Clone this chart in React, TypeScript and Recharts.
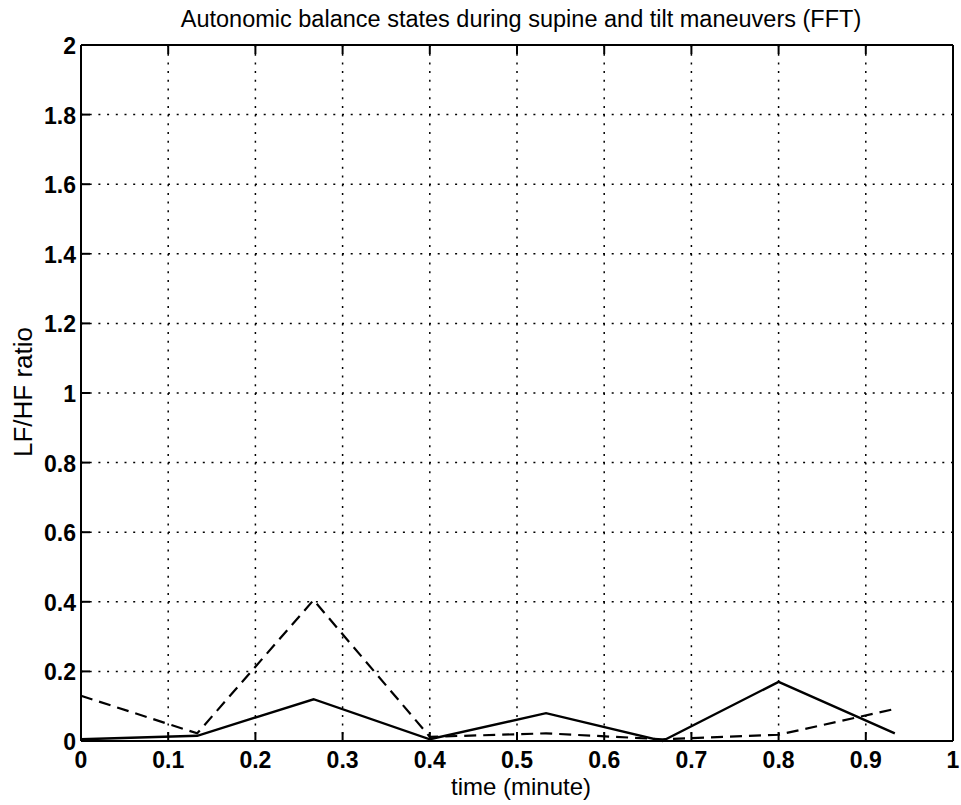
import { LineChart, Line, XAxis, YAxis, CartesianGrid } from 'recharts'

// sample times (minutes) and LF/HF ratio for the two runs
const times = [0, 0.1333, 0.2667, 0.4, 0.5333, 0.6667, 0.8, 0.9333]
const solidRatio = [0.005, 0.015, 0.12, 0.005, 0.08, 0.0, 0.17, 0.022]
const dashedRatio = [0.13, 0.022, 0.405, 0.012, 0.022, 0.005, 0.018, 0.092]

const xTicks = [0, 0.1, 0.2, 0.3, 0.4, 0.5, 0.6, 0.7, 0.8, 0.9, 1]
const yTicks = [0, 0.2, 0.4, 0.6, 0.8, 1, 1.2, 1.4, 1.6, 1.8, 2]

const data = times.map((t, i) => ({ t, solid: solidRatio[i], dashed: dashedRatio[i] }))

const FONT = '"Liberation Sans", Arial, Helvetica, sans-serif'
const TICK_LEN = 9

const fmt = (v: number) => (Number.isInteger(v) ? String(v) : v.toFixed(1))

const BottomTick = ({ x, y, payload }: any) => (
  <g>
    <line x1={x} y1={y} x2={x} y2={y - TICK_LEN} stroke="#000" strokeWidth={2} />
    <text x={x} y={y + 27} textAnchor="middle" fontFamily={FONT} fontSize={23} fontWeight="bold" fill="#000">
      {fmt(payload.value)}
    </text>
  </g>
)

const TopTick = ({ x, y }: any) => (
  <line x1={x} y1={y} x2={x} y2={y + TICK_LEN} stroke="#000" strokeWidth={2} />
)

const LeftTick = ({ x, y, payload }: any) => (
  <g>
    <line x1={x} y1={y} x2={x + TICK_LEN} y2={y} stroke="#000" strokeWidth={2} />
    <text x={x - 5} y={y + 9} textAnchor="end" fontFamily={FONT} fontSize={23} fontWeight="bold" fill="#000">
      {fmt(payload.value)}
    </text>
  </g>
)

const RightTick = ({ x, y }: any) => (
  <line x1={x} y1={y} x2={x - TICK_LEN} y2={y} stroke="#000" strokeWidth={2} />
)

export default function App() {
  const axisLine = { stroke: '#000', strokeWidth: 2 }
  return (
    <div style={{ position: 'absolute', left: 0, top: 0, width: 961, height: 805, background: '#fff' }}>
      <LineChart width={961} height={805} data={data} margin={{ top: 44, right: 7, bottom: 24, left: 21 }}>
        <CartesianGrid stroke="#000" strokeWidth={1.5} strokeDasharray="2 6.7" />
        <XAxis
          dataKey="t"
          type="number"
          domain={[0, 1]}
          ticks={xTicks}
          height={40}
          tickSize={0}
          tickMargin={0}
          tickLine={false}
          axisLine={axisLine}
          tick={<BottomTick />}
          interval={0}
        />
        <XAxis
          xAxisId="top"
          orientation="top"
          dataKey="t"
          type="number"
          domain={[0, 1]}
          ticks={xTicks}
          height={1}
          tickSize={0}
          tickMargin={0}
          tickLine={false}
          axisLine={axisLine}
          tick={<TopTick />}
          interval={0}
        />
        <YAxis
          type="number"
          domain={[0, 2]}
          ticks={yTicks}
          width={60}
          tickSize={0}
          tickMargin={0}
          tickLine={false}
          axisLine={axisLine}
          tick={<LeftTick />}
          interval={0}
        />
        <YAxis
          yAxisId="right"
          orientation="right"
          type="number"
          domain={[0, 2]}
          ticks={yTicks}
          width={1}
          tickSize={0}
          tickMargin={0}
          tickLine={false}
          axisLine={axisLine}
          tick={<RightTick />}
          interval={0}
        />
        <Line
          type="linear"
          dataKey="dashed"
          stroke="#000"
          strokeWidth={2.2}
          strokeDasharray="12 7"
          dot={false}
          isAnimationActive={false}
        />
        <Line
          type="linear"
          dataKey="solid"
          stroke="#000"
          strokeWidth={2.4}
          dot={false}
          isAnimationActive={false}
        />
      </LineChart>
      <svg
        width={961}
        height={805}
        style={{ position: 'absolute', left: 0, top: 0, pointerEvents: 'none' }}
        fontFamily={FONT}
        fill="#000"
      >
        <text x={521} y={27} textAnchor="middle" fontSize={23.5}>
          Autonomic balance states during supine and tilt maneuvers (FFT)
        </text>
        <text x={521} y={795} textAnchor="middle" fontSize={24}>
          time (minute)
        </text>
        <text x={32} y={392} textAnchor="middle" fontSize={26} transform="rotate(-90 32 392)">
          LF/HF ratio
        </text>
      </svg>
    </div>
  )
}
